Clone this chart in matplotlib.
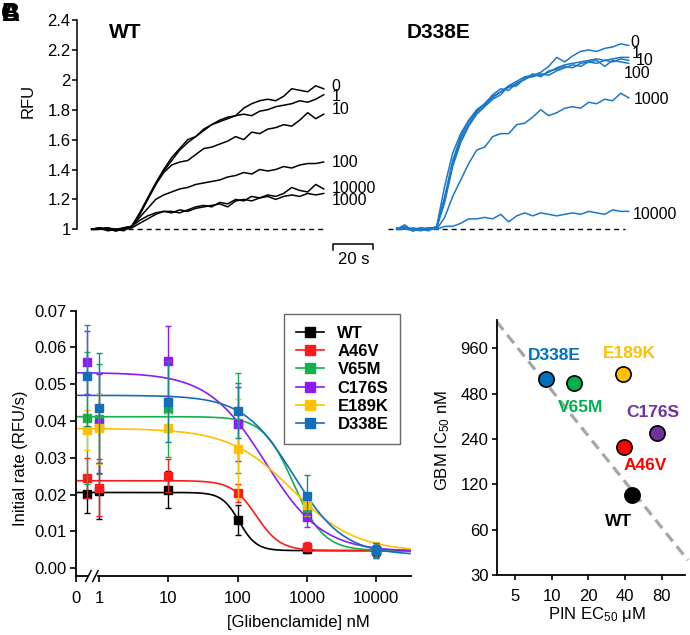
import numpy as np
import matplotlib
matplotlib.use('Agg')
import matplotlib.pyplot as plt
from matplotlib.lines import Line2D
from matplotlib.ticker import NullLocator, FixedLocator, FixedFormatter

plt.rcParams['font.family'] = ['Liberation Sans', 'DejaVu Sans']
plt.rcParams['mathtext.default'] = 'regular'
plt.rcParams['font.size'] = 12

# ---------------- Panel A: fluorescence traces ----------------
trace_t = np.arange(30) * 4.0          # seconds
wt_labels = ['0', '1', '10', '100', '10000', '1000']
wt_0 = [1.00, 1.01, 0.99, 1.00, 1.00, 1.02, 1.11, 1.21, 1.31, 1.40, 1.48, 1.54, 1.60, 1.62, 1.66,
        1.70, 1.73, 1.75, 1.76, 1.81, 1.84, 1.86, 1.87, 1.86, 1.89, 1.94, 1.93, 1.92, 1.96, 1.94]
wt_1 = [1.00, 1.00, 1.01, 0.99, 1.00, 1.02, 1.10, 1.20, 1.30, 1.39, 1.46, 1.53, 1.58, 1.62, 1.67,
        1.70, 1.72, 1.74, 1.76, 1.77, 1.76, 1.79, 1.80, 1.82, 1.83, 1.84, 1.86, 1.85, 1.87, 1.90]
wt_10 = [1.00, 1.01, 1.00, 0.99, 1.01, 1.02, 1.10, 1.20, 1.30, 1.38, 1.43, 1.45, 1.46, 1.50, 1.54,
         1.55, 1.57, 1.59, 1.62, 1.60, 1.65, 1.64, 1.67, 1.68, 1.70, 1.69, 1.73, 1.78, 1.74, 1.77]
wt_100 = [1.00, 1.00, 1.01, 1.00, 0.99, 1.02, 1.08, 1.14, 1.20, 1.23, 1.25, 1.27, 1.28, 1.30, 1.31,
          1.32, 1.33, 1.35, 1.36, 1.38, 1.37, 1.40, 1.39, 1.40, 1.42, 1.41, 1.43, 1.44, 1.44, 1.45]
wt_10000 = [1.00, 1.01, 1.00, 1.00, 1.01, 1.02, 1.06, 1.09, 1.11, 1.12, 1.12, 1.11, 1.13, 1.15, 1.16,
            1.15, 1.18, 1.17, 1.20, 1.19, 1.22, 1.21, 1.23, 1.22, 1.24, 1.28, 1.26, 1.25, 1.30, 1.27]
wt_1000 = [1.00, 1.00, 1.01, 0.99, 1.00, 1.01, 1.04, 1.07, 1.10, 1.12, 1.11, 1.13, 1.12, 1.14, 1.15,
           1.16, 1.17, 1.15, 1.19, 1.20, 1.19, 1.21, 1.22, 1.20, 1.22, 1.23, 1.22, 1.24, 1.23, 1.24]
wt_traces = [wt_0, wt_1, wt_10, wt_100, wt_10000, wt_1000]
wt_label_y = [1.955, 1.885, 1.80, 1.447, 1.275, 1.19]

d_labels = ['0', '1', '10', '100', '1000', '10000']
d_0 = [1.00, 1.02, 0.99, 1.01, 1.00, 1.02, 1.29, 1.51, 1.64, 1.73, 1.80, 1.84, 1.89, 1.92, 1.96,
       1.99, 2.02, 2.03, 2.05, 2.09, 2.15, 2.12, 2.16, 2.19, 2.20, 2.19, 2.21, 2.22, 2.24, 2.23]
d_1 = [1.00, 1.01, 1.00, 0.99, 1.01, 1.01, 1.22, 1.46, 1.62, 1.72, 1.79, 1.83, 1.88, 1.92, 1.95,
       1.96, 2.01, 2.03, 2.03, 2.05, 2.08, 2.10, 2.11, 2.12, 2.13, 2.14, 2.13, 2.14, 2.15, 2.15]
d_10 = [1.00, 1.00, 1.01, 1.00, 0.99, 1.02, 1.20, 1.44, 1.60, 1.70, 1.78, 1.84, 1.90, 1.94, 1.93,
        1.98, 2.00, 2.04, 2.02, 2.06, 2.07, 2.09, 2.08, 2.11, 2.12, 2.11, 2.13, 2.12, 2.14, 2.13]
d_100 = [1.01, 1.00, 1.00, 1.01, 1.00, 1.01, 1.18, 1.42, 1.58, 1.69, 1.77, 1.82, 1.87, 1.90, 1.96,
         1.97, 2.01, 2.02, 2.04, 2.03, 2.06, 2.08, 2.10, 2.09, 2.12, 2.13, 2.09, 2.13, 2.12, 2.11]
d_1000 = [1.00, 1.01, 0.99, 1.00, 1.01, 1.00, 1.08, 1.22, 1.33, 1.44, 1.53, 1.55, 1.62, 1.64, 1.64,
          1.70, 1.71, 1.75, 1.80, 1.76, 1.78, 1.81, 1.82, 1.81, 1.85, 1.84, 1.87, 1.86, 1.91, 1.88]
d_10000 = [1.00, 1.03, 0.99, 1.00, 1.01, 1.00, 1.02, 1.02, 1.04, 1.07, 1.07, 1.08, 1.07, 1.10, 1.05,
           1.09, 1.11, 1.09, 1.11, 1.10, 1.09, 1.10, 1.11, 1.10, 1.12, 1.11, 1.10, 1.13, 1.12, 1.12]
d_traces = [d_0, d_1, d_10, d_100, d_1000, d_10000]
d_label_y = [2.25, 2.175, 2.13, 2.04, 1.87, 1.096]
d_label_dt = [269.2, 270.0, 272.0, 266.2, 271.2, 270.5]
d338e_offset = 152.5

# ---------------- Panel B: dose response ----------------
conc = [0, 1, 10, 100, 1000, 10000]
conc_labels = ['0', '1', '10', '100', '1000', '10000']
mutants = ['WT', 'A46V', 'V65M', 'C176S', 'E189K', 'D338E']
rate_WT = [0.0201, 0.0210, 0.0213, 0.0131, 0.0052, 0.0048]
err_WT = [0.0050, 0.0077, 0.0050, 0.0040, 0.0010, 0.0015]
rate_A46V = [0.0246, 0.0219, 0.0251, 0.0204, 0.0059, 0.0050]
err_A46V = [0.0055, 0.0077, 0.0045, 0.0025, 0.0012, 0.0020]
rate_V65M = [0.0408, 0.0405, 0.0433, 0.0395, 0.0163, 0.0049]
err_V65M = [0.0180, 0.0150, 0.0130, 0.0135, 0.0030, 0.0020]
rate_C176S = [0.0560, 0.0394, 0.0563, 0.0392, 0.0139, 0.0050]
err_C176S = [0.0086, 0.0134, 0.0095, 0.0100, 0.0028, 0.0020]
rate_E189K = [0.0376, 0.0380, 0.0382, 0.0324, 0.0172, 0.0050]
err_E189K = [0.0054, 0.0097, 0.0040, 0.0137, 0.0030, 0.0022]
rate_D338E = [0.0523, 0.0435, 0.0453, 0.0428, 0.0197, 0.0049]
err_D338E = [0.0137, 0.0150, 0.0110, 0.0075, 0.0057, 0.0020]
rates = [rate_WT, rate_A46V, rate_V65M, rate_C176S, rate_E189K, rate_D338E]
errs = [err_WT, err_A46V, err_V65M, err_C176S, err_E189K, err_D338E]
fit_top = [0.0206, 0.0238, 0.0412, 0.0532, 0.0380, 0.0470]
fit_bottom = [0.0048, 0.0048, 0.0048, 0.0045, 0.0045, 0.0036]
fit_ic50 = [105, 185, 640, 250, 620, 640]
fit_hill = [3.5, 2.5, 2.0, 1.05, 0.95, 1.2]

# ---------------- Panel C: correlation ----------------
pin_ec50 = [45.3, 39.4, 15.3, 72.7, 38.7, 8.9]
gbm_ic50 = [101.7, 213, 567, 261.6, 648, 597]
guide_x = [3.54, 131]
guide_y = [1443, 37.6]

b_colors = ['#000000', '#ff1a1a', '#12b04f', '#8b1cf5', '#ffc000', '#1370b8']
b_err_colors = ['#000000', '#ff1a1a', '#12b04f', '#8b1cf5', '#ffc000', '#17898f']
c_colors = ['#000000', '#ff0000', '#00b050', '#7030a0', '#ffc000', '#0070c0']
c_label_off = [(-9.6, -19.2), (14.9, -13.2), (4.8, -17.6), (-2.8, 15.1), (4.6, 15.0), (6.6, 17.5)]
trace_blue = '#1b78c8'

W, H = 690, 635
fig = plt.figure(figsize=(6.9, 6.35), dpi=100)


def rect(l, t, r, b):
    return [l / W, 1 - b / H, (r - l) / W, (b - t) / H]


def ftext(x, y, s, **kw):
    fig.text(x / W, 1 - y / H, s, **kw)


# ---- Panel A
axA = fig.add_axes(rect(77, 17, 690, 233.8))
axA.set_xlim(-7.35, 299.15)
axA.set_ylim(0.97, 2.42)
for sp in ['top', 'right', 'bottom']:
    axA.spines[sp].set_visible(False)
axA.spines['left'].set_bounds(1, 2.4)
axA.spines['left'].set_linewidth(1.1)
axA.xaxis.set_visible(False)
axA.set_yticks([1, 1.2, 1.4, 1.6, 1.8, 2.0, 2.2, 2.4])
axA.set_yticklabels(['1', '1.2', '1.4', '1.6', '1.8', '2', '2.2', '2.4'])
axA.tick_params(axis='y', direction='out', length=3.5, width=1.1, pad=1, labelsize=12)

axA.plot([0, 116.7], [1, 1], color='black', lw=1, dashes=(3.6, 2.9))
axA.plot([d338e_offset - 4.2, d338e_offset + 114.2], [1, 1], color='black', lw=1, dashes=(3.6, 2.9))
for tr, lab, ly in zip(wt_traces, wt_labels, wt_label_y):
    axA.plot(trace_t, tr, color='black', lw=1.1)
    axA.text(120.0, ly, lab, ha='left', va='center', fontsize=11.5)
for tr, lab, ly, lx in zip(d_traces, d_labels, d_label_y, d_label_dt):
    axA.plot(trace_t + d338e_offset, tr, color=trace_blue, lw=1.1)
    axA.text(lx, ly, lab, ha='left', va='center', fontsize=11.5)

# scale bar 20 s
axA.plot([120.8, 120.8, 140.8, 140.8], [0.862, 0.902, 0.902, 0.868], color='black', lw=1.1,
         clip_on=False)
axA.text(130.8, 0.80, '20 s', ha='center', va='center', fontsize=12, clip_on=False)

ftext(125, 33, 'WT', ha='center', va='center', fontsize=15, fontweight='bold')
ftext(438, 33, 'D338E', ha='center', va='center', fontsize=15, fontweight='bold')
ftext(28.5, 100.5, 'RFU', ha='center', va='center', rotation=90, fontsize=12)

# ---- Panel B
axB = fig.add_axes(rect(76, 310.7, 411, 576))
axB.set_xscale('log')
x_left = 10 ** -0.332
zero_pos = 10 ** -0.177
axB.set_xlim(x_left, 10 ** 4.5)
axB.set_ylim(-0.0021, 0.07)
for sp in ['top', 'right']:
    axB.spines[sp].set_visible(False)
for sp in ['left', 'bottom']:
    axB.spines[sp].set_linewidth(1.3)
xpos = [zero_pos if c == 0 else c for c in conc]
axB.xaxis.set_major_locator(FixedLocator([x_left, 1, 10, 100, 1000, 10000]))
axB.xaxis.set_major_formatter(FixedFormatter(conc_labels))
axB.xaxis.set_minor_locator(NullLocator())
axB.set_yticks(np.arange(0, 0.0701, 0.01))
axB.set_yticklabels(['0.00', '0.01', '0.02', '0.03', '0.04', '0.05', '0.06', '0.07'])
axB.tick_params(axis='both', direction='out', length=4, width=1.2, labelsize=12)
axB.tick_params(axis='x', pad=7)
axB.tick_params(axis='y', pad=2.5)

xc = np.logspace(-0.332, 4.5, 400)
for i in range(6):
    yfit = fit_bottom[i] + (fit_top[i] - fit_bottom[i]) / (1 + (xc / fit_ic50[i]) ** fit_hill[i])
    axB.plot(xc, yfit, color=b_colors[i], lw=1.2, zorder=2)
for i in range(6):
    axB.errorbar(xpos, rates[i], yerr=errs[i], fmt='none', ecolor=b_err_colors[i],
                 elinewidth=1.0, capsize=2.2, capthick=1.0, zorder=3 + i)
    axB.plot(xpos, rates[i], 's', color=b_colors[i], ms=6, mec=b_colors[i], zorder=3 + i)

# axis break marks
axB.plot([0.041, 0.056], [0, 0], transform=axB.transAxes, color='white', lw=3,
         clip_on=False, zorder=20)
for xb in [0.037, 0.058]:
    axB.plot([xb - 0.008, xb + 0.008], [-0.02, 0.02], transform=axB.transAxes,
             color='black', lw=1.1, clip_on=False, zorder=21)

handles = [Line2D([0], [0], color=b_colors[i], marker='s', ms=7, lw=1.2) for i in range(6)]
leg = axB.legend(handles, mutants, loc='upper right', bbox_to_anchor=(0.967, 0.9876),
                 borderaxespad=0, prop={'weight': 'bold', 'size': 12}, frameon=True,
                 fancybox=False, edgecolor='#444444', handlelength=1.7, handletextpad=0.8,
                 labelspacing=0.2, borderpad=0.7)
leg.get_frame().set_linewidth(1.0)

ftext(21, 458, 'Initial rate (RFU/s)', ha='center', va='center', rotation=90, fontsize=12)
ftext(298, 622, '[Glibenclamide] nM', ha='center', va='center', fontsize=12)

# ---- Panel C
axC = fig.add_axes(rect(496.7, 320, 685, 575))
axC.set_xscale('log', base=2)
axC.set_yscale('log', base=2)
axC.set_xlim(3.54, 124)
axC.set_ylim(30, 1482)
for sp in ['top', 'right']:
    axC.spines[sp].set_visible(False)
for sp in ['left', 'bottom']:
    axC.spines[sp].set_linewidth(1.3)
axC.xaxis.set_major_locator(FixedLocator([5, 10, 20, 40, 80]))
axC.xaxis.set_major_formatter(FixedFormatter(['5', '10', '20', '40', '80']))
axC.yaxis.set_major_locator(FixedLocator([30, 60, 120, 240, 480, 960]))
axC.yaxis.set_major_formatter(FixedFormatter(['30', '60', '120', '240', '480', '960']))
axC.xaxis.set_minor_locator(NullLocator())
axC.yaxis.set_minor_locator(NullLocator())
axC.tick_params(axis='both', direction='out', length=3.5, width=1.2, labelsize=12)
axC.tick_params(axis='x', pad=6.5)
axC.tick_params(axis='y', pad=2.5)

axC.plot(guide_x, guide_y, color='#a6a6a6', lw=2.3, dashes=(3.3, 2.0), clip_on=False, zorder=1)
for i in range(6):
    axC.scatter([pin_ec50[i]], [gbm_ic50[i]], s=120, color=c_colors[i], edgecolor='black',
                linewidth=1.2, zorder=5, clip_on=False)
    axC.annotate(mutants[i], (pin_ec50[i], gbm_ic50[i]), xytext=c_label_off[i],
                 textcoords='offset points', ha='center', va='center', color=c_colors[i],
                 fontsize=12.5, fontweight='bold')

ftext(443, 440, 'GBM IC$_{50}$ nM', ha='center', va='center', rotation=90, fontsize=12)
ftext(597, 614, 'PIN EC$_{50}$ μM', ha='center', va='center', fontsize=12)

# overlapping panel letters
for L in ['A', 'B', 'C']:
    ftext(1, 2, L, ha='left', va='top', fontsize=18, fontweight='bold')

fig.savefig('out.png', dpi=100)
